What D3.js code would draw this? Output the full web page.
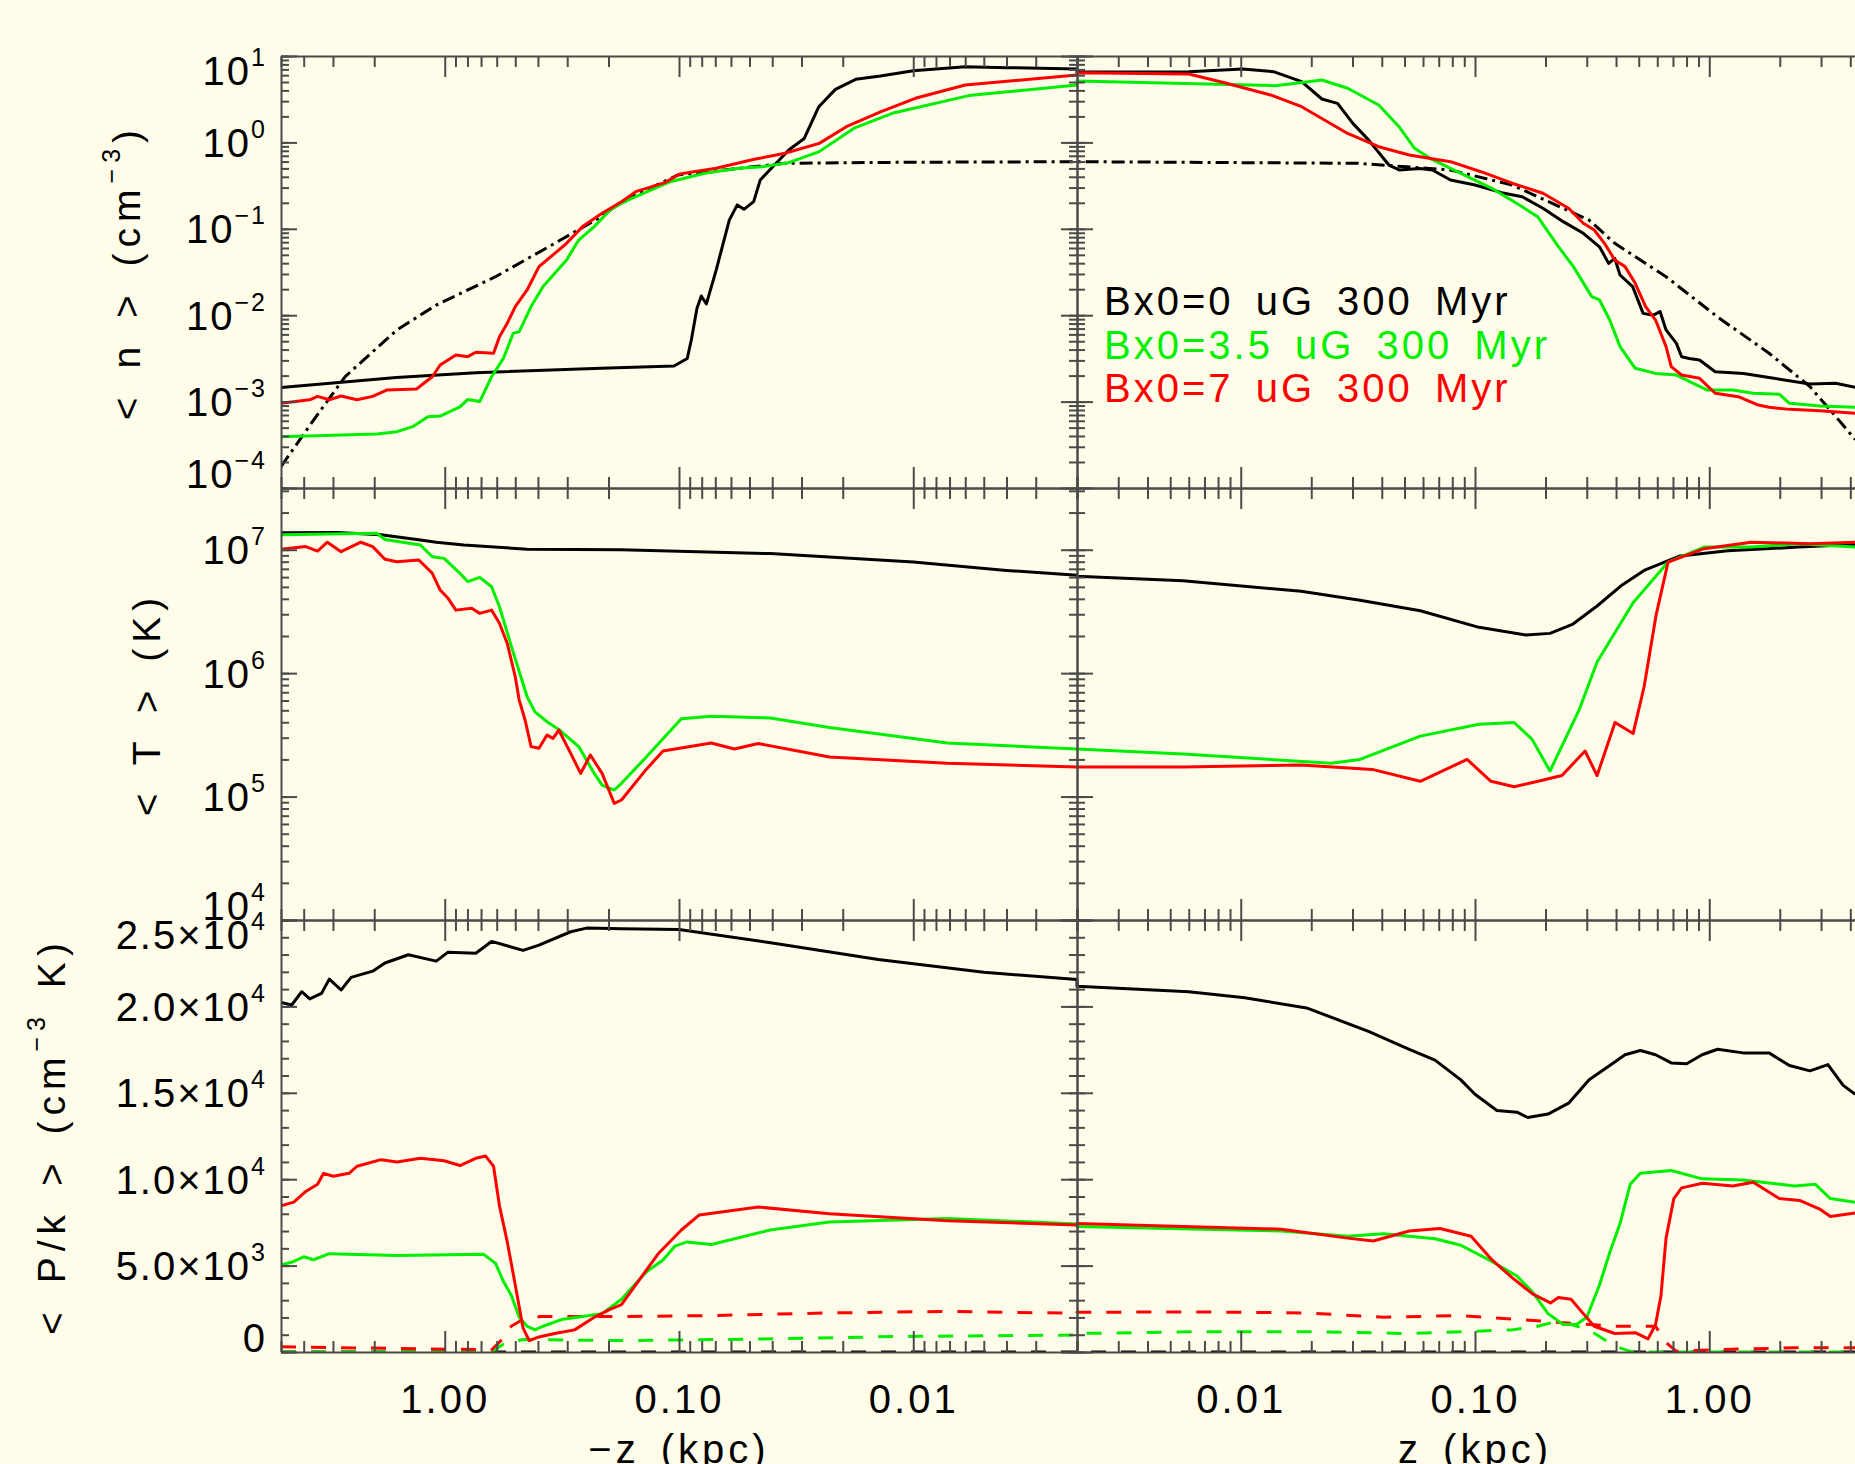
<!DOCTYPE html>
<html>
<head>
<meta charset="utf-8">
<script src="https://cdn.jsdelivr.net/npm/d3@7"></script>
<style>
  body { margin: 0; background: #fffde9; }
  text { font-family: "Liberation Sans", Arial, sans-serif; fill: #000; }
</style>
</head>
<body>
<svg id="chart"></svg>
<script>
// ---- données (z en kpc, négatif = côté -z) ----

// densité moyenne <n> (cm^-3)
const nBlack = [[-5,1.46e-3],[-1.61,1.9e-3],[-0.737,2.16e-3],[-0.215,2.43e-3],[-0.105,2.58e-3],[-0.0922,3.16e-3],[-0.0886,5.16e-3],[-0.0838,0.012],[-0.0803,0.0167],[-0.0764,0.0135],[-0.0694,0.0333],[-0.061,0.126],[-0.0564,0.189],[-0.0528,0.168],[-0.048,0.206],[-0.045,0.367],[-0.041,0.48],[-0.034,0.817],[-0.0292,1.11],[-0.0253,2.59],[-0.0215,4.11],[-0.0176,5.37],[-0.0138,5.87],[-0.01,6.76],[-0.006,7.52],[-0.00398,7.33],[-0.002,7.08],
  [0.002,6.53],[0.006,6.58],[0.0102,7.08],[0.0138,6.58],[0.0182,5.05],[0.0222,3.18],[0.0259,2.83],[0.0301,1.66],[0.0351,1.07],[0.0429,0.547],[0.0474,0.48],[0.0582,0.5],[0.0658,0.48],[0.0786,0.367],[0.1,0.321],[0.13,0.262],[0.159,0.235],[0.195,0.173],[0.238,0.121],[0.29,0.0887],[0.34,0.0619],[0.372,0.0398],[0.395,0.0455],[0.416,0.0292],[0.471,0.0214],[0.522,0.0105],[0.577,0.01],[0.617,0.011],[0.654,6.75e-3],[0.724,4.72e-3],[0.762,3.31e-3],[0.821,3.16e-3],[0.909,3.03e-3],[1.06,2.22e-3],[1.4,2.12e-3],[1.8,1.9e-3],[2.69,1.6e-3],[3.46,1.63e-3],[4.2,1.46e-3]];
const nGreen = [[-5,3.93e-4],[-1.95,4.22e-4],[-1.6,4.49e-4],[-1.37,5.13e-4],[-1.18,6.68e-4],[-1.046,6.81e-4],[-0.861,8.71e-4],[-0.797,1.06e-3],[-0.709,1.0e-3],[-0.631,1.94e-3],[-0.562,3.16e-3],[-0.51,6.17e-3],[-0.481,6.46e-3],[-0.428,0.0126],[-0.381,0.0214],[-0.339,0.0305],[-0.302,0.0436],[-0.268,0.0741],[-0.23,0.106],[-0.197,0.165],[-0.176,0.197],[-0.159,0.225],[-0.109,0.351],[-0.0777,0.439],[-0.0554,0.501],[-0.0442,0.524],[-0.034,0.582],[-0.0252,0.782],[-0.0179,1.46],[-0.0123,2.17],[-0.00579,3.48],[-0.002,4.61],
  [0.002,5.14],[0.00421,4.91],[0.0141,4.53],[0.0222,5.27],[0.0286,4.23],[0.0388,2.71],[0.0474,1.52],[0.0552,0.855],[0.0642,0.655],[0.087,0.439],[0.118,0.294],[0.159,0.18],[0.185,0.138],[0.227,0.0621],[0.263,0.0365],[0.315,0.0164],[0.34,0.015],[0.376,8.79e-3],[0.416,4.33e-3],[0.483,2.43e-3],[0.59,2.12e-3],[0.724,2.03e-3],[0.98,1.36e-3],[1.26,1.36e-3],[1.54,1.25e-3],[1.99,1.22e-3],[2.2,9.55e-4],[2.97,8.89e-4],[4.2,8.59e-4]];
const nRed = [[-5,9.55e-4],[-3.77,1.05e-3],[-3.49,1.15e-3],[-3.11,1.05e-3],[-2.77,1.16e-3],[-2.37,1.05e-3],[-2.03,1.15e-3],[-1.77,1.36e-3],[-1.32,1.4e-3],[-1.13,1.94e-3],[-1.046,2.65e-3],[-0.896,3.47e-3],[-0.797,3.31e-3],[-0.737,3.72e-3],[-0.619,3.62e-3],[-0.584,5.64e-3],[-0.541,8.05e-3],[-0.5,0.0126],[-0.445,0.0196],[-0.396,0.0365],[-0.339,0.052],[-0.302,0.0679],[-0.258,0.106],[-0.213,0.151],[-0.176,0.206],[-0.153,0.269],[-0.115,0.342],[-0.0992,0.431],[-0.0694,0.501],[-0.0477,0.637],[-0.0353,0.748],[-0.0252,0.975],[-0.0193,1.52],[-0.0138,2.26],[-0.0098,3.24],[-0.006,4.61],[-0.002,6.03],
  [0.002,6.41],[0.006,6.19],[0.00853,4.91],[0.0134,3.54],[0.0182,2.59],[0.0286,1.27],[0.0388,0.891],[0.0524,0.714],[0.0786,0.598],[0.106,0.458],[0.144,0.337],[0.195,0.258],[0.251,0.173],[0.29,0.116],[0.323,0.0968],[0.357,0.0679],[0.395,0.0436],[0.437,0.0365],[0.483,0.0234],[0.535,0.0126],[0.59,8.79e-3],[0.654,4.33e-3],[0.688,2.54e-3],[0.762,2.03e-3],[0.909,1.86e-3],[1.06,1.25e-3],[1.33,1.14e-3],[1.62,9.12e-4],[1.8,8.59e-4],[2.2,8.13e-4],[2.97,7.83e-4],[4.2,7.31e-4]];
// profil initial (tirets-points)
const nModel = [[-5,1.77e-4],[-3.63,6.12e-4],[-2.66,1.95e-3],[-1.6,6.75e-3],[-1.087,0.0131],[-0.607,0.0279],[-0.339,0.0679],[-0.215,0.138],[-0.176,0.206],[-0.101,0.42],[-0.0353,0.573],[-0.0106,0.589],[-0.002,0.598],
  [0.002,0.598],[0.0317,0.573],[0.0786,0.479],[0.144,0.321],[0.307,0.126],[0.395,0.0679],[0.654,0.0279],[1.085,9.55e-3],[1.8,3.63e-3],[2.69,1.49e-3],[3.46,6.76e-4],[4.2,3.63e-4]];

// température moyenne <T> (K)
const tBlack = [[-5,1.37e7],[-2.88,1.38e7],[-1.87,1.32e7],[-1.27,1.2e7],[-1.087,1.15e7],[-0.829,1.09e7],[-0.445,1.01e7],[-0.176,1.0e7],[-0.0408,9.3e6],[-0.01,7.94e6],[-0.004,6.8e6],[-0.002,6.2e6],
  [0.002,6.1e6],[0.00567,5.6e6],[0.0181,4.6e6],[0.0323,3.9e6],[0.0584,3.2e6],[0.104,2.35e6],[0.165,2.04e6],[0.209,2.1e6],[0.262,2.5e6],[0.332,3.5e6],[0.42,5.1e6],[0.527,6.8e6],[0.75,8.9e6],[1.2,9.8e6],[2.4,1.05e7],[4.2,1.1e7]];
const tGreen = [[-5,1.32e7],[-1.95,1.36e7],[-1.8,1.21e7],[-1.27,1.09e7],[-1.13,8.77e6],[-1.006,8.51e6],[-0.861,6.44e6],[-0.797,5.51e6],[-0.709,5.97e6],[-0.631,5.01e6],[-0.584,3.45e6],[-0.519,1.64e6],[-0.445,6.44e5],[-0.412,4.86e5],[-0.366,4.04e5],[-0.326,3.5e5],[-0.268,2.54e5],[-0.23,1.54e5],[-0.213,1.24e5],[-0.189,1.13e5],[-0.176,1.28e5],[-0.138,2.09e5],[-0.0977,4.27e5],[-0.0728,4.47e5],[-0.0408,4.33e5],[-0.0228,3.63e5],[-0.00715,2.72e5],[-0.002,2.43e5],
  [0.002,2.43e5],[0.00567,2.21e5],[0.0243,1.86e5],[0.0323,2.0e5],[0.0584,3.09e5],[0.104,3.86e5],[0.147,3.98e5],[0.175,2.92e5],[0.209,1.61e5],[0.278,5.01e5],[0.332,1.23e6],[0.473,3.72e6],[0.667,7.94e6],[0.951,1.05e7],[1.51,1.05e7],[2.4,1.12e7],[4.2,1.05e7]];
const tRed = [[-5,1.01e7],[-3.92,1.06e7],[-3.49,9.75e6],[-3.17,1.15e7],[-2.77,9.64e6],[-2.28,1.15e7],[-2.03,1.06e7],[-1.8,8.36e6],[-1.6,8.0e6],[-1.29,8.26e6],[-1.13,6.44e6],[-1.046,4.71e6],[-0.968,4.04e6],[-0.896,3.24e6],[-0.767,3.35e6],[-0.709,3.05e6],[-0.631,3.24e6],[-0.584,2.54e6],[-0.541,1.74e6],[-0.5,9.35e5],[-0.481,6.05e5],[-0.454,4.17e5],[-0.428,2.54e5],[-0.396,2.46e5],[-0.366,3.15e5],[-0.345,2.96e5],[-0.326,3.46e5],[-0.29,2.24e5],[-0.263,1.54e5],[-0.239,2.17e5],[-0.213,1.54e5],[-0.189,8.81e4],[-0.176,9.38e4],[-0.138,1.66e5],[-0.117,2.34e5],[-0.0728,2.72e5],[-0.058,2.43e5],[-0.0459,2.69e5],[-0.0228,2.09e5],[-0.00715,1.86e5],[-0.002,1.74e5],
  [0.002,1.74e5],[0.00567,1.74e5],[0.0181,1.8e5],[0.0364,1.66e5],[0.0584,1.33e5],[0.0925,2.0e5],[0.117,1.33e5],[0.147,1.2e5],[0.186,1.33e5],[0.235,1.48e5],[0.295,2.34e5],[0.332,1.48e5],[0.396,3.98e5],[0.473,3.24e5],[0.527,7.76e5],[0.593,2.95e6],[0.667,7.94e6],[0.951,1.02e7],[1.51,1.15e7],[2.7,1.12e7],[4.2,1.15e7]];

// pression moyenne <P/k> (cm^-3 K) : thermique (trait plein) et magnétique (tirets)
const pBlack = [[-5,20230],[-4.5,20080],[-4.08,20850],[-3.77,20430],[-3.36,20750],[-3.11,21580],[-2.77,20950],[-2.51,21680],[-2.03,22040],[-1.8,22510],[-1.43,22990],[-1.087,22620],[-0.968,23140],[-0.737,23080],[-0.631,23760],[-0.463,23240],[-0.396,23550],[-0.29,24320],[-0.248,24530],[-0.176,24490],[-0.1,24450],[-0.04,23670],[-0.0141,22710],[-0.005,21970],[-0.002,21550],
  [0.002,21160],[0.006,20850],[0.0104,20500],[0.0191,19910],[0.0351,18560],[0.0524,17520],[0.0675,16890],[0.087,15750],[0.1,14920],[0.124,13980],[0.151,13880],[0.168,13570],[0.205,13770],[0.251,14400],[0.307,15750],[0.376,16580],[0.437,17200],[0.508,17450],[0.59,17200],[0.688,16730],[0.801,16680],[0.932,17200],[1.085,17520],[1.395,17310],[1.8,17310],[2.2,16580],[2.69,16270],[3.21,16630],[3.73,15430],[4.2,14920]];
const pGreen = [[-5,5030],[-4.41,5240],[-4.0,5510],[-3.63,5340],[-3.11,5690],[-1.6,5590],[-0.682,5650],[-0.607,5130],[-0.562,4090],[-0.519,3260],[-0.481,2010],[-0.445,1490],[-0.412,1280],[-0.381,1490],[-0.313,1900],[-0.258,2050],[-0.213,2220],[-0.176,3050],[-0.138,4630],[-0.117,5320],[-0.104,6130],[-0.0925,6370],[-0.0728,6220],[-0.0408,7060],[-0.0228,7520],[-0.00715,7730],[-0.002,7410],
  [0.002,7260],[0.00697,7110],[0.0149,7000],[0.0286,6700],[0.0408,6840],[0.0675,6550],[0.087,6180],[0.118,5240],[0.151,4400],[0.176,3470],[0.205,2220],[0.238,1590],[0.271,1590],[0.3,2010],[0.34,3880],[0.376,5760],[0.416,7430],[0.46,9710],[0.508,10340],[0.688,10500],[0.932,10020],[1.395,9960],[2.31,9610],[2.83,9710],[3.29,8880],[4.2,8670]];
const pRed = [[-5,8460],[-4.41,8670],[-3.92,9290],[-3.49,9710],[-3.29,10340],[-2.99,10170],[-2.56,10340],[-2.37,10750],[-1.87,11130],[-1.6,11000],[-1.27,11210],[-1.006,11070],[-0.861,10790],[-0.737,11210],[-0.669,11340],[-0.619,10750],[-0.584,8460],[-0.541,6380],[-0.5,3880],[-0.463,1380],[-0.436,660],[-0.396,870],[-0.339,1070],[-0.279,1280],[-0.23,2010],[-0.197,2470],[-0.176,2740],[-0.123,5670],[-0.0977,7060],[-0.0819,7930],[-0.0459,8390],[-0.0228,8000],[-0.00715,7600],[-0.002,7350],
  [0.002,7430],[0.0149,7110],[0.0286,6590],[0.0368,6420],[0.0524,7000],[0.0709,7150],[0.0962,6700],[0.118,5340],[0.144,4300],[0.176,3360],[0.21,2840],[0.227,3150],[0.257,3050],[0.29,2220],[0.323,1490],[0.395,1070],[0.483,1120],[0.548,760],[0.59,1590],[0.622,3260],[0.654,6590],[0.706,8880],[0.762,9500],[0.935,9770],[1.26,9610],[1.54,9820],[1.99,8880],[2.43,8770],[2.98,8250],[3.29,7840],[4.2,8040]];
const pBlackMag = [[-5,0],[4.2,0]];
const pGreenMag = [[-5,0],[-0.633,0],[-0.562,450],[-0.463,720],[-0.176,660],[-0.0442,750],[-0.0113,900],[-0.002,985],
  [0.002,1070],[0.00697,1175],[0.0191,1175],[0.0524,1070],[0.144,1280],[0.185,1490],[0.227,1800],[0.307,1280],[0.395,340],[0.46,35],[0.52,0],[4.2,0]];
const pRedMag = [[-5,300],[-0.737,140],[-0.633,100],[-0.562,800],[-0.52,1490],[-0.463,1900],[-0.39,2050],[-0.176,2050],[-0.0728,2110],[-0.0228,2260],[-0.00715,2350],[-0.002,2240],
  [0.002,2300],[0.00697,2320],[0.0191,2260],[0.0408,2010],[0.087,2110],[0.144,1900],[0.238,1700],[0.395,1490],[0.59,1490],[0.654,550],[0.724,40],[1.085,140],[2.31,240],[4.2,240]];

// ticks et légende
const xMajor = [1, 0.1, 0.01];
const xMinor = [5,4,3,2,0.9,0.8,0.7,0.6,0.5,0.4,0.3,0.2,0.09,0.08,0.07,0.06,0.05,0.04,0.03,0.02,0.009,0.008,0.007,0.006,0.005,0.004,0.003,0.002];
const nMajor = [10, 1, 0.1, 0.01, 1e-3, 1e-4];
const tMajor = [1e7, 1e6, 1e5, 1e4];
const pMajor = [25000, 20000, 15000, 10000, 5000, 0];
const pMinor = d3.range(0, 25001, 1000);
const legendLabels = ["Bx0=0 uG 300 Myr", "Bx0=3.5 uG 300 Myr", "Bx0=7 uG 300 Myr"];
const legendColors = ["#000000", "#00f000", "#ff0000"];

//---------------------------------------------------------------------------------------

const W = 1855, H = 1464;
const xLeft = 281, xMid = 1077, xRight = 1873;
const panelH = 432;
const tops = [56, 488, 920];
const green = "#00ee00", red = "#ff0000";

const svg = d3.select("#chart").attr("width", W).attr("height", H);
svg.append("rect").attr("width", W).attr("height", H).attr("fill", "#fffde9");

// échelles : deux demi-axes log, -z à gauche, z à droite
const xL = d3.scaleLog().domain([5, 0.002]).range([xLeft, xMid]);
const xR = d3.scaleLog().domain([0.002, 5]).range([xMid, xRight]);
const xz = z => z < 0 ? xL(-z) : xR(z);

const yN = d3.scaleLog().domain([1e-4, 10]).range([tops[0] + panelH, tops[0]]);
const yT = d3.scaleLog().domain([1e4, Math.pow(10, 7.5)]).range([tops[1] + panelH, tops[1]]);
const yP = d3.scaleLinear().domain([0, 25000]).range([tops[2] + panelH, tops[2]]);

const defs = svg.append("defs");
tops.forEach((t, i) => {
  defs.append("clipPath").attr("id", `clip${i}`)
    .append("rect").attr("x", xLeft).attr("y", t).attr("width", xRight - xLeft).attr("height", panelH);
});

// courbes
function drawSeries(i, y, data, color, dash) {
  const line = d3.line().x(d => xz(d[0])).y(d => y(d[1]));
  svg.append("path")
    .datum(data)
    .attr("clip-path", `url(#clip${i})`)
    .attr("d", line)
    .attr("fill", "none")
    .attr("stroke", color)
    .attr("stroke-width", 3)
    .attr("stroke-linejoin", "round")
    .attr("stroke-dasharray", dash || null);
}

drawSeries(0, yN, nModel, "#000", "13,5,3,5");
drawSeries(0, yN, nBlack, "#000");
drawSeries(0, yN, nGreen, green);
drawSeries(0, yN, nRed, red);

drawSeries(1, yT, tBlack, "#000");
drawSeries(1, yT, tGreen, green);
drawSeries(1, yT, tRed, red);

drawSeries(2, yP, pBlackMag, "#000", "15,15");
drawSeries(2, yP, pGreenMag, green, "15,15");
drawSeries(2, yP, pRedMag, red, "15,15");
drawSeries(2, yP, pBlack, "#000");
drawSeries(2, yP, pGreen, green);
drawSeries(2, yP, pRed, red);

//---------------------------------------------------------------------------------------

// axes
const axisColor = "#4a4a4a";
function styleAxis(g, keepDomain) {
  g.attr("color", axisColor).selectAll("line,path").attr("stroke-width", 2);
  g.selectAll("text").remove();
  if (!keepDomain) g.select(".domain").remove();
}

tops.forEach((t, i) => {
  const b = t + panelH;
  for (const xs of [xL, xR]) {
    svg.append("g").attr("transform", `translate(0,${t})`)
      .call(d3.axisBottom(xs).tickValues(xMajor).tickSize(21).tickSizeOuter(0)).call(g => styleAxis(g, true));
    svg.append("g").attr("transform", `translate(0,${t})`)
      .call(d3.axisBottom(xs).tickValues(xMinor).tickSize(11)).call(g => styleAxis(g));
    svg.append("g").attr("transform", `translate(0,${b})`)
      .call(d3.axisTop(xs).tickValues(xMajor).tickSize(21).tickSizeOuter(0)).call(g => styleAxis(g, true));
    svg.append("g").attr("transform", `translate(0,${b})`)
      .call(d3.axisTop(xs).tickValues(xMinor).tickSize(11)).call(g => styleAxis(g));
  }

  const y = [yN, yT, yP][i];
  const majors = [nMajor, tMajor, pMajor][i];
  const minors = i === 2 ? pMinor : y.ticks();
  // axe gauche (ticks vers l'intérieur), axe central des deux côtés
  svg.append("g").attr("transform", `translate(${xLeft},0)`)
    .call(d3.axisRight(y).tickValues(majors).tickSize(16).tickSizeOuter(0)).call(g => styleAxis(g, true));
  svg.append("g").attr("transform", `translate(${xLeft},0)`)
    .call(d3.axisRight(y).tickValues(minors).tickSize(8)).call(g => styleAxis(g));
  svg.append("g").attr("transform", `translate(${xMid},0)`)
    .call(d3.axisRight(y).tickValues(majors).tickSize(16).tickSizeOuter(0)).call(g => styleAxis(g, true));
  svg.append("g").attr("transform", `translate(${xMid},0)`)
    .call(d3.axisRight(y).tickValues(minors).tickSize(8)).call(g => styleAxis(g));
  svg.append("g").attr("transform", `translate(${xMid},0)`)
    .call(d3.axisLeft(y).tickValues(majors).tickSize(16).tickSizeOuter(0)).call(g => styleAxis(g, true));
  svg.append("g").attr("transform", `translate(${xMid},0)`)
    .call(d3.axisLeft(y).tickValues(minors).tickSize(8)).call(g => styleAxis(g));

  // étiquettes de l'axe y (rapprochées des bords du panneau comme dans IDL)
  for (const v of majors) {
    const c = Math.max(t + 14.5, Math.min(b - 14.5, y(v)));
    let main, sup;
    if (i < 2) {
      main = "10";
      sup = String(Math.round(Math.log10(v))).replace("-", "\u2212");
    } else if (v === 0) {
      main = "0"; sup = "";
    } else {
      const e = Math.floor(Math.log10(v));
      main = (v / Math.pow(10, e)).toFixed(1) + "\u00d710";
      sup = String(e);
    }
    const txt = svg.append("text")
      .attr("x", 267).attr("y", c + 14.5)
      .attr("text-anchor", "end")
      .attr("font-size", 40)
      .attr("letter-spacing", 2);
    txt.append("tspan").text(main);
    if (sup) txt.append("tspan").attr("dy", -19).attr("font-size", 25).text(sup);
  }
});

// étiquettes de l'axe x
for (const xs of [xL, xR]) {
  svg.append("g").attr("transform", `translate(0,${tops[2] + panelH})`)
    .call(d3.axisBottom(xs).tickValues(xMajor).tickSize(0).tickPadding(33).tickFormat(d3.format(".2f")))
    .call(g => g.select(".domain").remove())
    .call(g => g.selectAll("text")
      .attr("font-size", 40)
      .attr("letter-spacing", 3)
      .attr("font-family", "Liberation Sans, Arial, sans-serif")
      .attr("fill", "#000"));
}

// titres des axes x
svg.append("text").attr("x", (xLeft + xMid) / 2).attr("y", 1463)
  .attr("text-anchor", "middle").attr("font-size", 40)
  .attr("letter-spacing", 4).attr("word-spacing", 6)
  .text("\u2212z (kpc)");
svg.append("text").attr("x", (xMid + xRight) / 2).attr("y", 1463)
  .attr("text-anchor", "middle").attr("font-size", 40)
  .attr("letter-spacing", 4).attr("word-spacing", 6)
  .text("z (kpc)");

// titres des axes y (texte vertical)
const yTitles = [
  { x: 140, parts: ["< n >  (cm", "\u22123", ")"] },
  { x: 160, parts: ["< T >  (K)"] },
  { x: 65, parts: ["< P/k >  (cm", "\u22123", " K)"] },
];
yTitles.forEach((d, i) => {
  const cy = tops[i] + panelH / 2;
  const txt = svg.append("text")
    .attr("transform", `translate(${d.x},${cy}) rotate(-90)`)
    .attr("text-anchor", "middle")
    .attr("font-size", 39)
    .attr("letter-spacing", 6)
    .attr("word-spacing", 6);
  txt.append("tspan").text(d.parts[0]);
  if (d.parts.length > 1) {
    txt.append("tspan").attr("dy", -20).attr("font-size", 25).text(d.parts[1]);
    txt.append("tspan").attr("dy", 20).text(d.parts[2]);
  }
});

// légende
legendLabels.forEach((lab, i) => {
  svg.append("text")
    .attr("x", 1104).attr("y", 315 + i * 43.5)
    .attr("font-size", 40)
    .attr("letter-spacing", 3)
    .attr("word-spacing", 8)
    .style("fill", legendColors[i])
    .text(lab);
});
</script>
</body>
</html>
